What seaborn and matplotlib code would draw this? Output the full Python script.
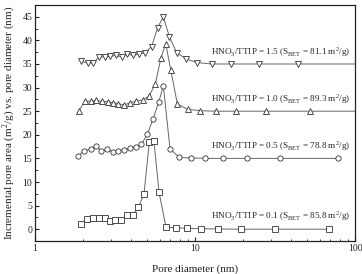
import numpy as np
import pandas as pd
import matplotlib
matplotlib.use("Agg")
import matplotlib.pyplot as plt
import seaborn as sns
from matplotlib.ticker import LogLocator, FixedLocator, MultipleLocator, NullFormatter

sns.set_theme(style="ticks")
plt.rcParams['font.family'] = ['Liberation Serif', 'DejaVu Serif']
plt.rcParams['mathtext.fontset'] = 'custom'
plt.rcParams['mathtext.rm'] = 'Liberation Serif'

# Data (pore diameter nm, incremental pore area)
d01 = [1.94, 2.11, 2.30, 2.51, 2.74, 2.94, 3.16, 3.45, 3.76, 4.08, 4.42, 4.80, 5.18, 5.54, 5.96, 6.59, 7.57, 8.96, 10.85, 13.86, 19.5, 31.6, 69.1]
a01 = [1.2, 2.2, 2.3, 2.4, 2.3, 1.8, 1.9, 2.0, 3.0, 3.0, 4.6, 7.5, 18.4, 18.6, 7.8, 0.4, 0.3, 0.2, 0.1, 0.05, 0.0, 0.0, 0.0]

d05 = [1.85, 2.03, 2.23, 2.42, 2.60, 2.83, 3.06, 3.32, 3.60, 3.92, 4.26, 4.62, 5.04, 5.46, 5.93, 6.34, 6.98, 7.98, 9.39, 11.6, 14.9, 21.0, 34.0, 78.6]
a05 = [15.5, 16.6, 17.0, 17.6, 16.6, 16.9, 16.3, 16.6, 16.8, 17.2, 17.5, 18.0, 20.1, 23.3, 26.9, 30.4, 17.0, 15.2, 15.1, 15.0, 15.0, 15.0, 15.0, 15.0]

d10 = [1.88, 2.06, 2.23, 2.42, 2.62, 2.85, 3.06, 3.32, 3.62, 3.92, 4.26, 4.71, 5.16, 5.65, 6.13, 6.56, 7.05, 7.76, 9.00, 10.75, 13.5, 18.0, 27.8, 52.3, 100.0]
a10 = [25.1, 27.2, 27.1, 27.3, 27.1, 27.0, 26.8, 26.6, 26.3, 26.8, 27.1, 27.4, 28.2, 30.8, 36.3, 39.3, 33.8, 26.5, 25.4, 25.1, 25.0, 25.0, 25.0, 25.0, 25.0]

d15 = [1.94, 2.13, 2.32, 2.52, 2.74, 2.94, 3.19, 3.48, 3.74, 4.08, 4.47, 4.87, 5.36, 5.84, 6.34, 6.91, 7.68, 8.78, 10.3, 12.8, 16.8, 25.0, 44.2, 100.0]
a15 = [35.6, 35.2, 35.3, 36.5, 36.5, 36.6, 36.8, 36.5, 37.2, 36.8, 37.1, 37.4, 38.7, 42.7, 45.0, 40.8, 37.4, 36.1, 35.3, 35.0, 35.0, 35.0, 35.0, 35.0]

labels = [
    r"HNO$_3$/TTIP = 0.1 (S$_{\rm BET}$ = 85.8 m$^2$/g)",
    r"HNO$_3$/TTIP = 0.5 (S$_{\rm BET}$ = 78.8 m$^2$/g)",
    r"HNO$_3$/TTIP = 1.0 (S$_{\rm BET}$ = 89.3 m$^2$/g)",
    r"HNO$_3$/TTIP = 1.5 (S$_{\rm BET}$ = 81.1 m$^2$/g)",
]
label_y = [2.8, 17.7, 27.5, 37.6]

series = [(d01, a01, 's'), (d05, a05, 'o'), (d10, a10, '^'), (d15, a15, 'v')]

fig = plt.figure(figsize=(3.62, 2.74), dpi=100)
ax = fig.add_axes([0.0967, 0.1204, 0.884, 0.8614])

for (d, a, m) in series:
    df = pd.DataFrame({"d": d, "a": a})
    n = len(d)
    mev = list(range(n - 1)) if d[-1] >= 100 else list(range(n))
    sns.lineplot(data=df, x="d", y="a", ax=ax, color="#666666", lw=0.7,
                 marker=m, markersize=3.8, markerfacecolor="white",
                 markeredgecolor="#333333", markeredgewidth=0.6,
                 markevery=mev, sort=False, estimator=None)

for lab, y in zip(labels, label_y):
    ax.text(93, y, lab, ha="right", va="center", fontsize=6.6, color="#222222")

ax.set_xscale("log")
ax.set_xlim(1, 100)
ax.set_ylim(-2.5, 47.5)
ax.set_xticks([1, 10, 100])
ax.set_xticklabels(["1", "10", "100"])
ax.xaxis.set_minor_locator(LogLocator(base=10, subs=np.arange(2, 10)))
ax.xaxis.set_minor_formatter(NullFormatter())
ax.yaxis.set_major_locator(MultipleLocator(5))
ax.set_yticks(np.arange(0, 46, 5))
ax.yaxis.set_minor_locator(FixedLocator(np.arange(-2.5, 47.6, 5)))
ax.tick_params(which="major", direction="in", length=3, width=0.8, labelsize=7, colors="#222222", pad=2)
ax.tick_params(which="minor", direction="in", length=1.8, width=0.6, colors="#222222")
ax.tick_params(top=False, right=False, which="both")
for s in ax.spines.values():
    s.set_visible(True)
    s.set_linewidth(0.9)
    s.set_color("#222222")

ax.set_xlabel("Pore diameter (nm)", fontsize=8, color="#222222", labelpad=8)
ax.set_ylabel("Incremental pore area (m$^2$/g) vs. pore diameter (nm)", fontsize=8, color="#222222", labelpad=4)

fig.savefig("out.png", dpi=100)
